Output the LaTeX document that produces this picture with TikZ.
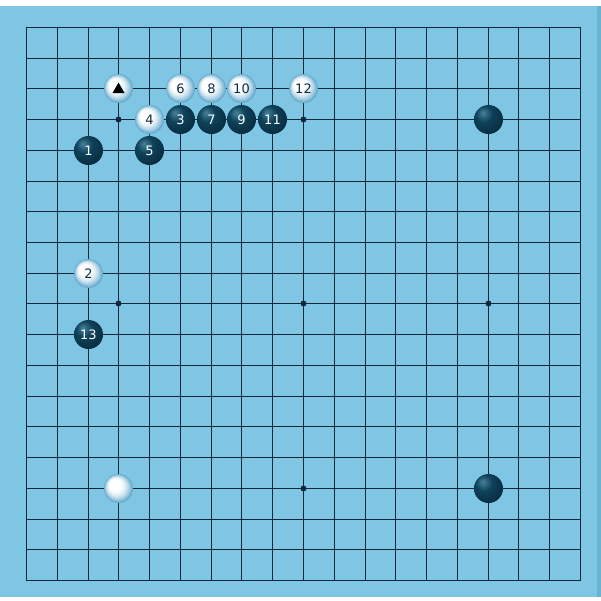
\documentclass[tikz,border=0pt]{standalone}
\usepackage{fontspec}
\newfontfamily\stonefont{DejaVu Sans}
\definecolor{boardc}{RGB}{126,198,228}
\definecolor{boardedge}{RGB}{105,178,210}
\definecolor{gridc}{RGB}{18,40,58}
\definecolor{bsA}{RGB}{70,130,155}
\definecolor{bsB}{RGB}{14,66,90}
\definecolor{bsC}{RGB}{6,36,52}
\definecolor{wsD}{RGB}{105,172,206}
\definecolor{wtext}{RGB}{20,45,65}
\pgfdeclareradialshading{blackstone}{\pgfpoint{-10bp}{12bp}}{color(0bp)=(bsA); color(14bp)=(bsB); color(40bp)=(bsC); color(70bp)=(bsC)}
\tikzset{
  gridline/.style={draw=gridc, line width=1.7pt},
  starpt/.style={circle, fill=gridc, inner sep=0pt, minimum size=6pt},
  bstone/.style={circle, inner sep=0pt, minimum size=29pt, text=white, font=\stonefont\fontsize{13}{13}\selectfont},
  wstone/.style={circle, inner sep=0pt, minimum size=29pt, text=wtext, font=\stonefont\fontsize{13}{13}\selectfont},
}
% #1 name, #2 column, #3 row, #4 label
\newcommand{\whitest}[4]{%
  \foreach \k in {0,...,10}{
    \pgfmathsetmacro{\pc}{100*(1-\k/10)^2}
    \pgfmathsetmacro{\rr}{14.5-\k*0.95}
    \pgfmathsetmacro{\oo}{\k*0.35}
    \fill[wsD!\pc!white] ({round(26+#2*30.778)+0.5-\oo},{round(27+#3*30.722)+0.5-\oo}) circle (\rr);
  }
  \node[wstone] (#1) at ({round(26+#2*30.778)+0.5},{round(27+#3*30.722)+0.5}) {#4};}
\newcommand{\blackst}[4]{%
  \shade[shading=blackstone] ({round(26+#2*30.778)+0.5},{round(27+#3*30.722)+0.5}) circle (14.5);
  \node[bstone] (#1) at ({round(26+#2*30.778)+0.5},{round(27+#3*30.722)+0.5}) {#4};}
\begin{document}
\begin{tikzpicture}[x=1pt,y=-1pt]
\useasboundingbox (0,0) rectangle (601,600);
\fill[white] (0,0) rectangle (601,600);
\fill[boardc] (0,6) rectangle (601,597);
\fill[boardedge] (597,6) rectangle (601,597);
% grid
\foreach \i in {0,...,18}{
  \pgfmathsetmacro{\xx}{round(26+\i*30.778)+0.5}
  \pgfmathsetmacro{\yy}{round(27+\i*30.722)+0.5}
  \draw[gridline] (\xx,26.65) -- (\xx,581.35);
  \draw[gridline] (25.65,\yy) -- (581.35,\yy);
}
% star points
\foreach \c in {3,9,15}{
  \foreach \r in {3,9,15}{
    \node[starpt] (s\c\r) at ({round(26+\c*30.778)+0.5},{round(27+\r*30.722)+0.5}) {};
  }
}
% stones: white
\whitest{w0}{3}{2}{}
\fill[black] (w0.center) ++(0,-6) -- ++(-6,10.5) -- ++(12,0) -- cycle;
\whitest{w6}{5}{2}{6}
\whitest{w8}{6}{2}{8}
\whitest{w10}{7}{2}{10}
\whitest{w12}{9}{2}{12}
\whitest{w4}{4}{3}{4}
\whitest{w2}{2}{8}{2}
\whitest{wa}{3}{15}{}
% stones: black
\blackst{b3}{5}{3}{3}
\blackst{b7}{6}{3}{7}
\blackst{b9}{7}{3}{9}
\blackst{b11}{8}{3}{11}
\blackst{b1}{2}{4}{1}
\blackst{b5}{4}{4}{5}
\blackst{b13}{2}{10}{13}
\blackst{ba}{15}{3}{}
\blackst{bb}{15}{15}{}
\end{tikzpicture}
\end{document}
